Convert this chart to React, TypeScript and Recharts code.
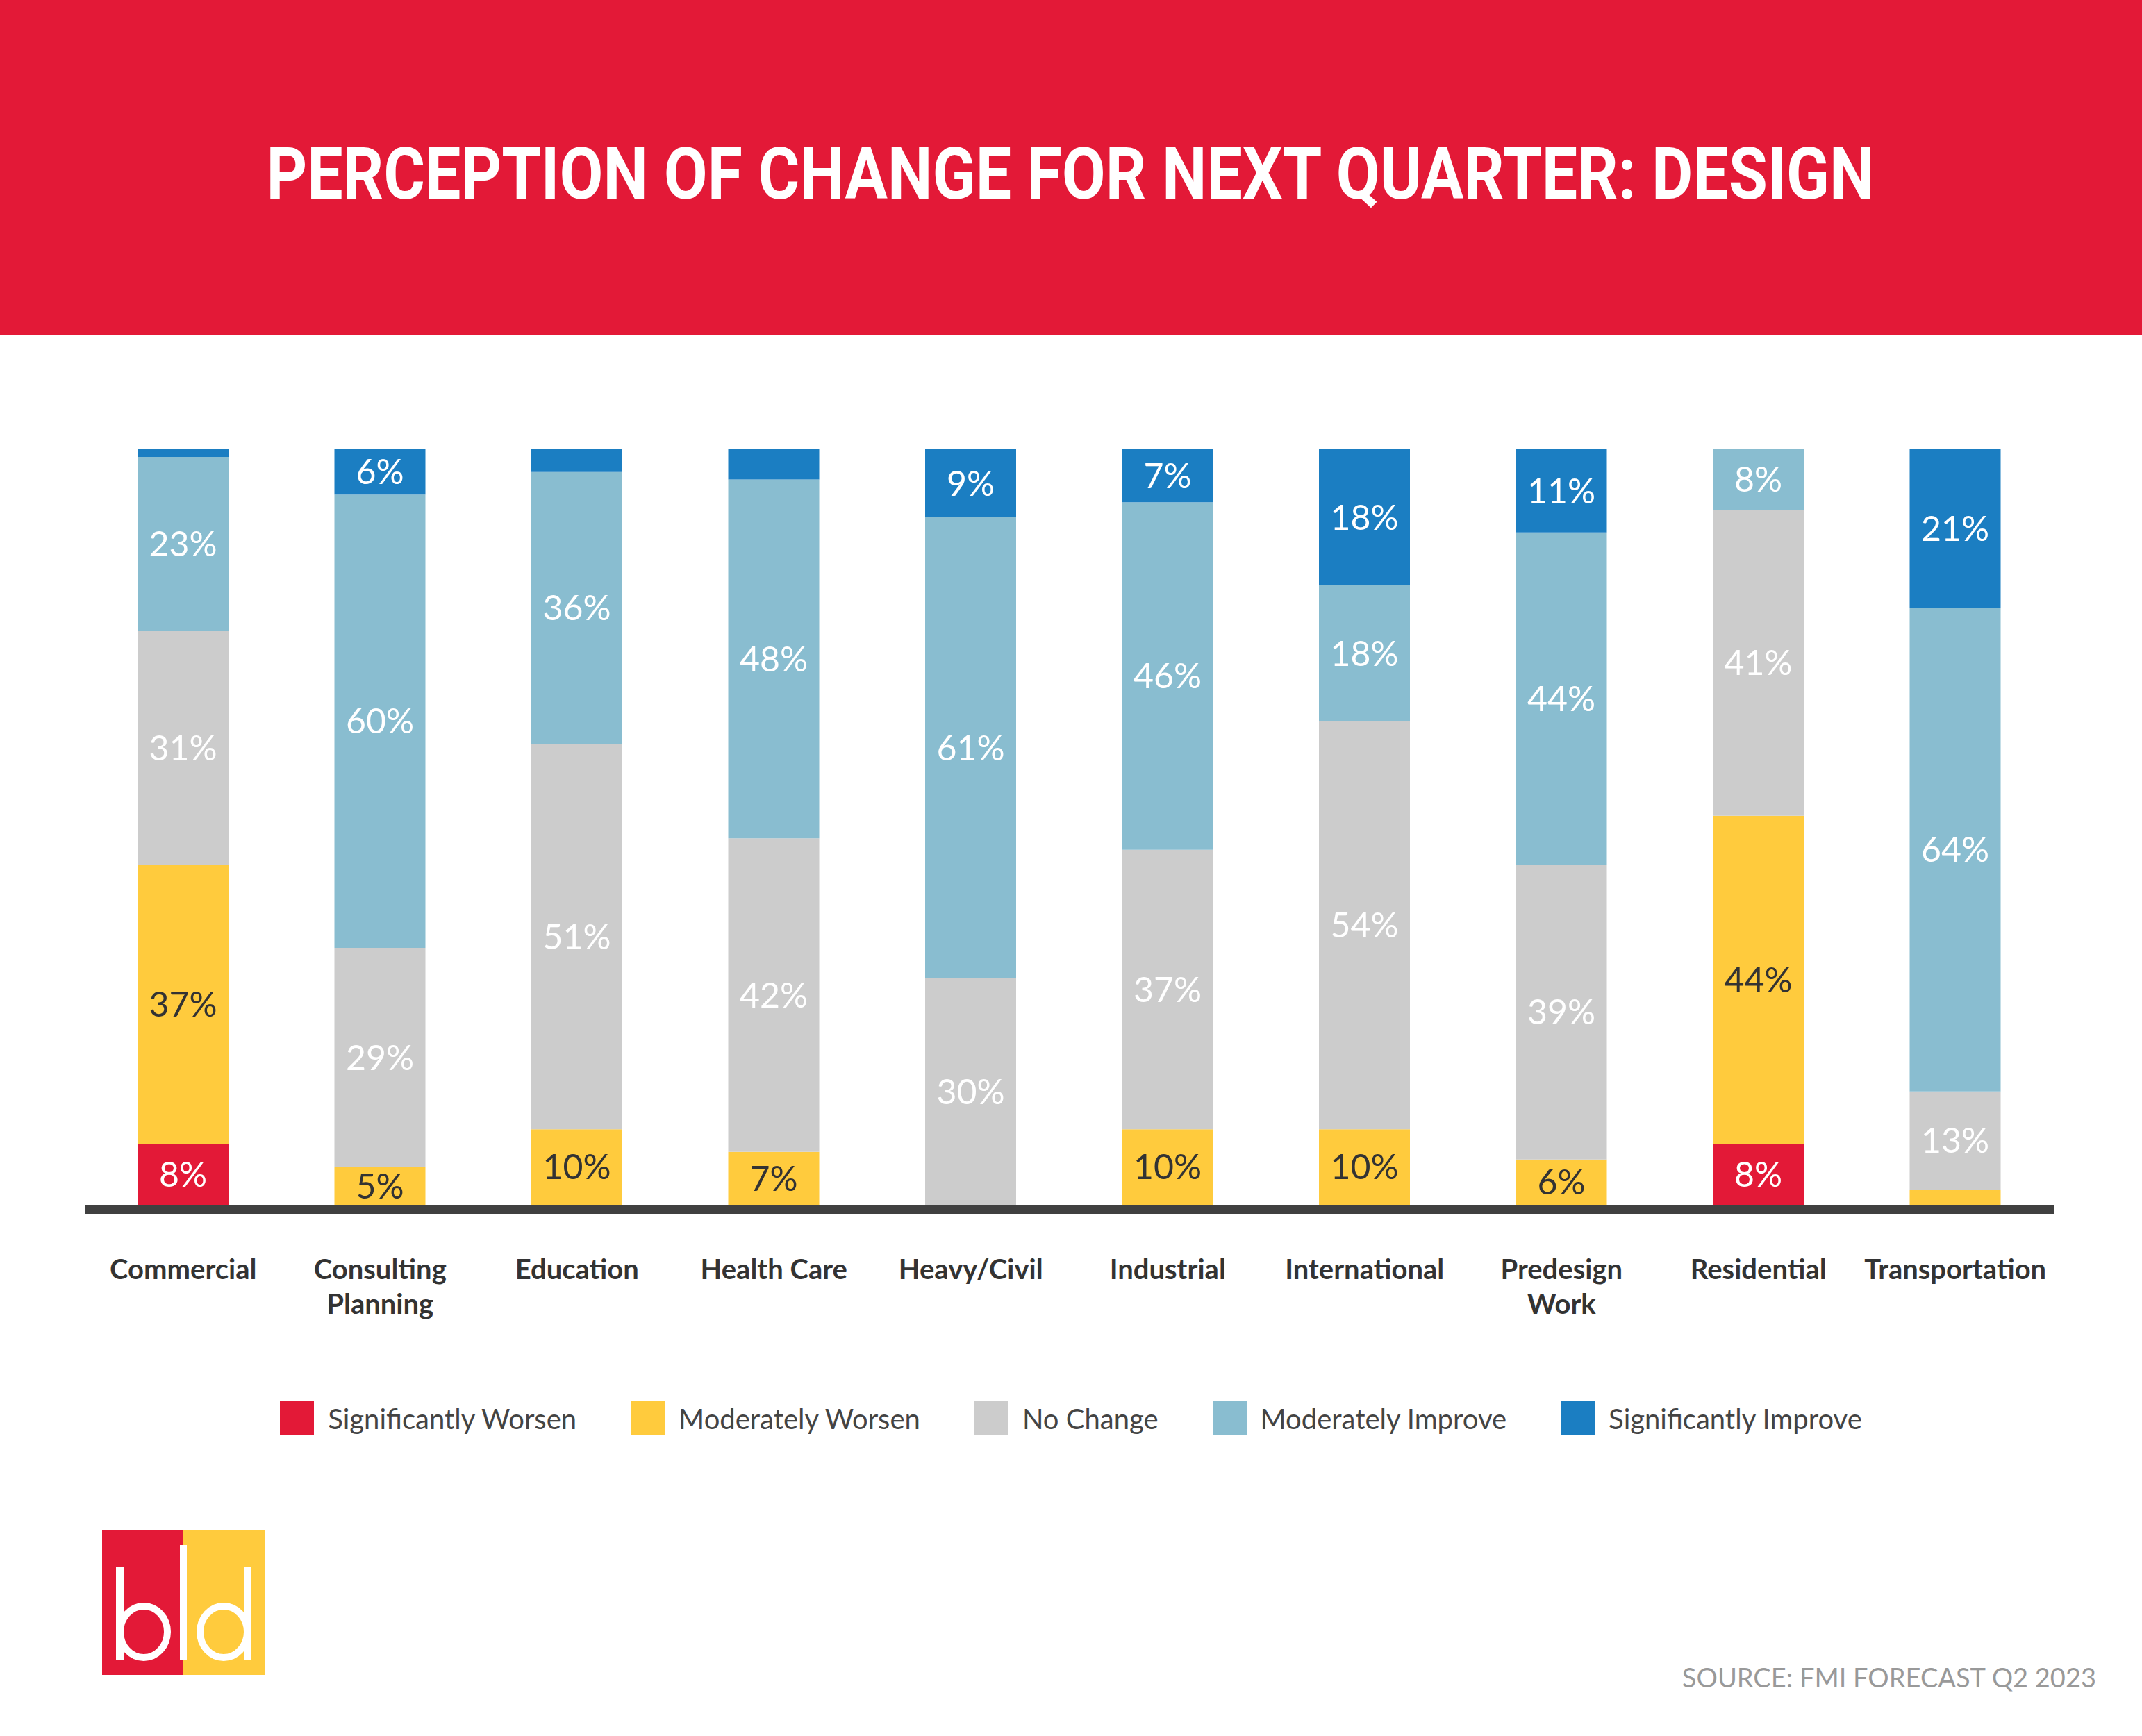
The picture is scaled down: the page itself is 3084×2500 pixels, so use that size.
import { BarChart, Bar, XAxis, YAxis, Legend, LabelList, ReferenceArea } from 'recharts'

const categories = [
  'Commercial',
  'Consulting\nPlanning',
  'Education',
  'Health Care',
  'Heavy/Civil',
  'Industrial',
  'International',
  'Predesign\nWork',
  'Residential',
  'Transportation',
]
const sigWorsen = [8, 0, 0, 0, 0, 0, 0, 0, 8, 0]
const modWorsen = [37, 5, 10, 7, 0, 10, 10, 6, 43.5, 2]
const noChange = [31, 29, 51, 41.5, 30, 37, 54, 39, 40.5, 13]
const modImprove = [23, 60, 36, 47.5, 61, 46, 18, 44, 8, 64]
const sigImprove = [1, 6, 3, 4, 9, 7, 18, 11, 0, 21]

const data = categories.map((name, i) => ({
  name,
  sigWorsen: sigWorsen[i],
  modWorsen: modWorsen[i],
  noChange: noChange[i],
  modImprove: modImprove[i],
  sigImprove: sigImprove[i],
}))

const series = [
  { key: 'sigWorsen', name: 'Significantly Worsen', color: '#E31937', label: '#FFFFFF' },
  { key: 'modWorsen', name: 'Moderately Worsen', color: '#FFCB3D', label: '#333333' },
  { key: 'noChange', name: 'No Change', color: '#CCCCCC', label: '#FFFFFF' },
  { key: 'modImprove', name: 'Moderately Improve', color: '#89BDD0', label: '#FFFFFF' },
  { key: 'sigImprove', name: 'Significantly Improve', color: '#1B7EC2', label: '#FFFFFF' },
]
const seriesOrder = series.map((s) => s.name)

function CategoryTick({ x, y, payload }: any) {
  const lines = String(payload.value).split('\n')
  return (
    <text x={x} y={y} textAnchor="middle" fontFamily="Lato" fontWeight={700} fontSize={40} fill="#333333">
      {lines.map((l, i) => (
        <tspan key={i} x={x} dy={i === 0 ? 107 : 50}>
          {l}
        </tspan>
      ))}
    </text>
  )
}

function LegendContent({ payload }: any) {
  // keep the stacking order, not alphabetical
  const items = [...(payload || [])].sort((a: any, b: any) => seriesOrder.indexOf(a.value) - seriesOrder.indexOf(b.value))
  return (
    <div style={{ display: 'flex', justifyContent: 'center', gap: 78, fontFamily: 'Lato', fontSize: 40, color: '#444444' }}>
      {items.map((p: any) => (
        <div key={p.value} style={{ display: 'flex', alignItems: 'center', height: 49 }}>
          <span style={{ display: 'inline-block', width: 49, height: 49, background: p.color, marginRight: 20 }} />
          <span>{p.value}</span>
        </div>
      ))}
    </div>
  )
}

const fmt = (v: any) => (Number(v) >= 5 ? `${Math.round(Number(v))}%` : '')

export default function App() {
  return (
    <div style={{ position: 'absolute', left: 0, top: 0, width: 3084, height: 2500, background: '#FFFFFF', overflow: 'hidden' }}>
      <div style={{ position: 'absolute', left: 0, top: 0, width: 3084, height: 482, background: '#E31937' }}>
        <svg width={3084} height={482}>
          <text
            x={1541}
            y={286}
            textAnchor="middle"
            fontFamily="Roboto"
            fontWeight={700}
            fontSize={104}
            fill="#FFFFFF"
            textLength={2315}
            lengthAdjust="spacingAndGlyphs"
          >
            PERCEPTION OF CHANGE FOR NEXT QUARTER: DESIGN
          </text>
        </svg>
      </div>

      <div style={{ position: 'absolute', left: 0, top: 0 }}>
        <BarChart width={3084} height={2200} data={data} margin={{ top: 647, right: 127, bottom: 265, left: 122 }}>
          <XAxis
            dataKey="name"
            axisLine={false}
            tickLine={false}
            tickSize={0}
            tickMargin={0}
            height={200}
            interval={0}
            tick={<CategoryTick />}
          />
          <YAxis hide domain={[0, 100]} />
          {series.map((s) => (
            <Bar key={s.key} dataKey={s.key} name={s.name} stackId="a" fill={s.color} barSize={131} isAnimationActive={false}>
              <LabelList
                dataKey={s.key}
                position="center"
                formatter={fmt}
                fill={s.label}
                fontFamily="Lato"
                fontSize={50}
              />
            </Bar>
          ))}
          <ReferenceArea y1={0} y2={-1.2} ifOverflow="visible" fill="#404040" fillOpacity={1} stroke="none" />
          <Legend
            layout="horizontal"
            verticalAlign="middle"
            align="center"
            wrapperStyle={{ top: 2018, left: 0, width: 3084 }}
            content={<LegendContent />}
          />
        </BarChart>
      </div>

      <svg style={{ position: 'absolute', left: 0, top: 2150 }} width={500} height={300}>
        <rect x={147} y={53} width={117} height={209} fill="#E31937" />
        <rect x={264} y={53} width={118} height={209} fill="#FFCB3D" />
        <rect x={167} y={106} width={11} height={134} fill="#FFFFFF" />
        <ellipse cx={207} cy={200} rx={34} ry={37} fill="none" stroke="#FFFFFF" strokeWidth={10} />
        <rect x={259} y={75} width={10} height={165} fill="#FFFFFF" />
        <rect x={351} y={106} width={11} height={134} fill="#FFFFFF" />
        <ellipse cx={322} cy={200} rx={34} ry={37} fill="none" stroke="#FFFFFF" strokeWidth={10} />
      </svg>

      <div
        style={{
          position: 'absolute',
          right: 3084 - 3018,
          top: 2392,
          fontFamily: 'Lato',
          fontSize: 38,
          color: '#999999',
          whiteSpace: 'nowrap',
        }}
      >
        SOURCE: FMI FORECAST Q2 2023
      </div>
    </div>
  )
}
